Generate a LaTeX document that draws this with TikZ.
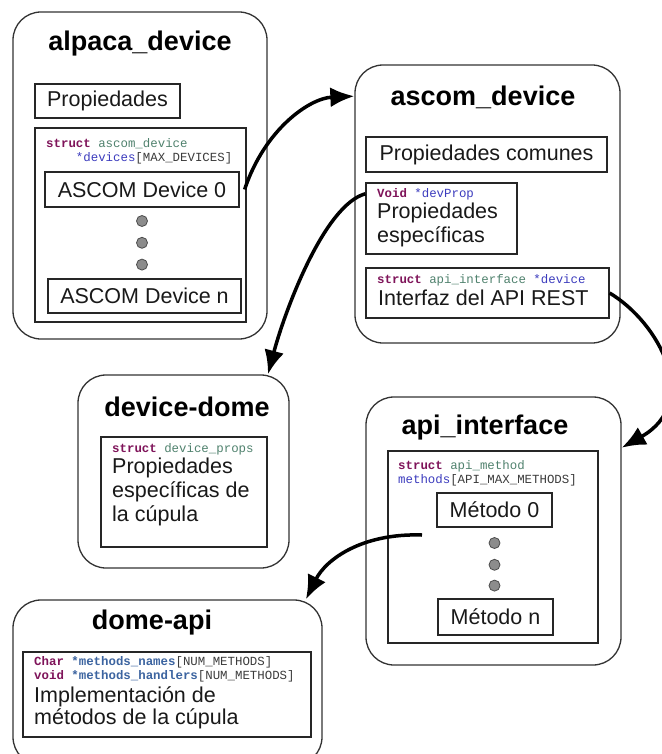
\documentclass[tikz,border=0pt]{standalone}
\usepackage{fontspec}
\setmainfont{Liberation Sans}
\setmonofont{Liberation Mono}
\usetikzlibrary{positioning,arrows.meta}
\definecolor{kwcol}{RGB}{127,20,90}
\definecolor{tncol}{RGB}{80,130,110}
\definecolor{vncol}{RGB}{60,60,190}
\definecolor{vbcol}{RGB}{60,100,160}
\definecolor{brcol}{RGB}{60,60,60}
\newcommand{\kw}[1]{\textcolor{kwcol}{\textbf{#1}}}
\newcommand{\tn}[1]{\textcolor{tncol}{#1}}
\newcommand{\vn}[1]{\textcolor{vncol}{#1}}
\newcommand{\vb}[1]{\textcolor{vbcol}{\textbf{#1}}}
\tikzstyle{outerbox}=[rectangle, rounded corners=28pt, draw=black!80, line width=1.3pt, fill=white]
\tikzstyle{innerbox}=[rectangle, draw=black!85, line width=1.2pt, fill=white, inner sep=0pt]
\tikzstyle{labelbox}=[innerbox, font=\fontsize{21.5}{24}\selectfont, text=black!90]
\tikzstyle{titletext}=[font=\fontsize{27}{30}\selectfont\bfseries, inner sep=0pt]
\tikzstyle{bodytext}=[font=\fontsize{21.5}{24}\selectfont, align=left, inner sep=0pt, text=black!90, anchor=west]
\tikzstyle{codetext}=[font=\fontsize{12.4}{14}\selectfont\ttfamily, align=left, inner sep=0pt, text=brcol, anchor=west]
\tikzstyle{dotnode}=[circle, draw=black!70, fill=black!45, line width=0.8pt, minimum size=11pt, inner sep=0pt]
\tikzstyle{link}=[-{Latex[length=24pt,width=20pt]}, line width=3.5pt]

\begin{document}
\begin{tikzpicture}[x=1pt,y=-1pt]
\useasboundingbox (0,0) rectangle (661,754);
%Outer boxes
\node[outerbox, minimum width=254pt, minimum height=327pt] (alpaca)   at (140,175.5)   {};
\node[outerbox, minimum width=265pt, minimum height=278pt] (ascomdev) at (487.5,204)   {};
\node[outerbox, minimum width=211pt, minimum height=193pt] (devdome)  at (183.5,471.5) {};
\node[outerbox, minimum width=255pt, minimum height=268pt] (apiif)    at (493.5,531)   {};
\node[outerbox, minimum width=309pt, minimum height=165pt] (domeapi)  at (167.5,682.5) {};
%Titles
\node[titletext] (alpacatitle)   at (140,44)  {alpaca\_device};
\node[titletext] (ascomtitle)    at (483,97)  {ascom\_device};
\node[titletext] (devdometitle)  at (187,407) {device-dome};
\node[titletext] (apiiftitle)    at (485,428) {api\_interface};
\node[titletext] (domeapititle)  at (152,623) {dome-api};
%alpaca_device
\node[labelbox, minimum width=145pt, minimum height=34pt] (props)    at (107.5,101) {Propiedades};
\node[innerbox, minimum width=211pt, minimum height=194pt] (devarray) at (140.5,225) {};
\node[codetext] (devcode) at (46,151.5) {\kw{struct} \tn{ascom\_device}\\\hspace*{2.4em}\vn{*devices}[MAX\_DEVICES]};
\node[labelbox, minimum width=194pt, minimum height=35pt] (dev0) at (142,189.5) {ASCOM Device 0};
\node[dotnode] (d1) [below=7.5pt of dev0] {};
\node[dotnode] (d2) [below=10pt of d1] {};
\node[dotnode] (d3) [below=10pt of d2] {};
\node[labelbox, minimum width=193pt, minimum height=34pt] (devn) at (144.5,296) {ASCOM Device n};
%ascom_device
\node[labelbox, minimum width=241pt, minimum height=35pt] (common) at (486.5,154.5) {Propiedades comunes};
\node[innerbox, minimum width=151pt, minimum height=71pt] (devprop) at (441.5,218.5) {};
\node[codetext] (devpropcode) at (377,194) {\kw{Void} \vn{*devProp}};
\node[bodytext] (devproptext) at (377,225) {Propiedades\\específicas};
\node[innerbox, minimum width=243pt, minimum height=50pt] (apiptr) at (487.5,293) {};
\node[codetext] (apiptrcode) at (377,280) {\kw{struct} \tn{api\_interface} \vn{*device}};
\node[bodytext] (apiptrtext) at (378,298) {Interfaz del API REST};
%device-dome
\node[innerbox, minimum width=166pt, minimum height=110pt] (domeprops) at (184,492) {};
\node[codetext] (domepropscode) at (112,449) {\kw{struct} \tn{device\_props}};
\node[bodytext] (domepropstext) at (112,491.5) {Propiedades\\específicas de\\la cúpula};
%api_interface
\node[innerbox, minimum width=210pt, minimum height=192pt] (methods) at (493,547) {};
\node[codetext] (methodscode) at (398,473.5) {\kw{struct} \tn{api\_method}\\\vn{methods}[API\_MAX\_METHODS]};
\node[labelbox, minimum width=115pt, minimum height=34pt] (met0) at (494.5,510) {Método 0};
\node[dotnode] (m1) [below=9.5pt of met0] {};
\node[dotnode] (m2) [below=10pt of m1] {};
\node[dotnode] (m3) [below=9pt of m2] {};
\node[labelbox, minimum width=115pt, minimum height=36pt] (metn) at (495.5,617) {Método n};
\coordinate (mlink) at (422,535);
%dome-api
\node[innerbox, minimum width=288pt, minimum height=85pt] (impl) at (167,694.5) {};
\node[codetext] (implcode) at (34,669) {\kw{Char} \vb{*methods\_names}[NUM\_METHODS]\\\kw{void} \vb{*methods\_handlers}[NUM\_METHODS]};
\node[bodytext, font=\fontsize{21.5}{22}\selectfont] (impltext) at (34,707.5) {Implementación de\\métodos de la cúpula};
%Lines
\draw[link] ([xshift=5pt]dev0.east) .. controls +(20,-60) and +(-45,2) .. (ascomdev.141);
\draw[link] (devprop.162) .. controls +(-41,11) and +(17,-64) .. (devdome.49);
\draw[link] (apiptr.east) .. controls +(50,30) and +(80,-45) .. (apiif.33);
\draw[link] (mlink) .. controls +(-60,-2) and +(20,-40) .. (domeapi.31);
\end{tikzpicture}
\end{document}
